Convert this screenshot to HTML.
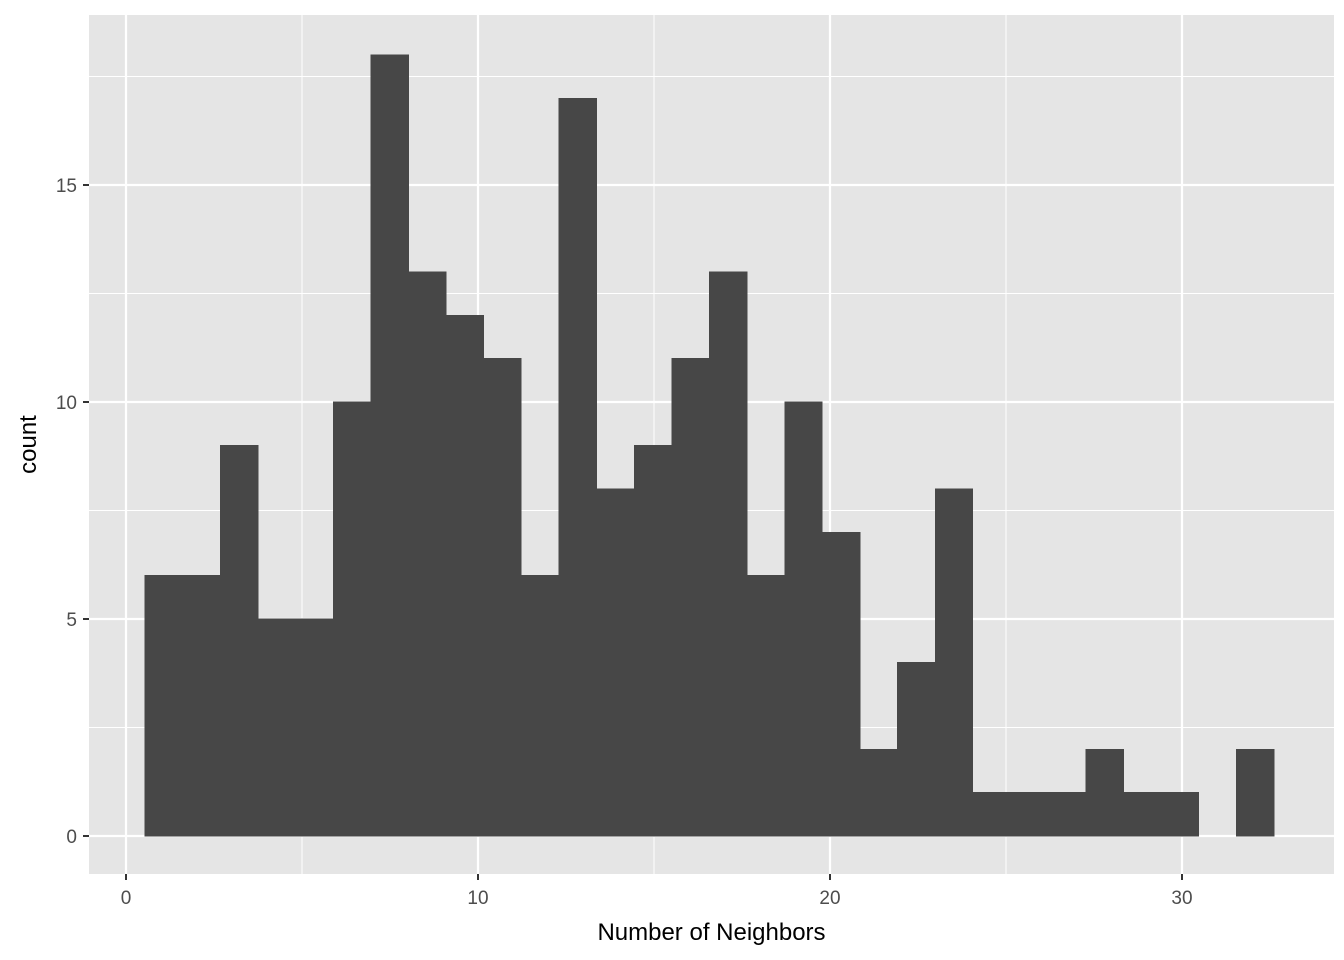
<!DOCTYPE html>
<html><head><meta charset="utf-8"><style>
html,body{margin:0;padding:0;background:#fff;}
svg{display:block;font-family:"Liberation Sans",Arial,sans-serif;}
</style></head><body>
<svg id="chart" width="1344" height="960"></svg>
<script>
const counts=[6,6,9,5,5,10,18,13,12,11,6,17,8,9,11,13,6,10,7,2,4,8,1,1,1,2,1,1,0,2];
const binStart=0.54;
const binWidth=1.069;
const xTicks=[0,10,20,30];
const xMinor=[5,15,25];
const yTicks=[0,5,10,15];
const yMinor=[2.5,7.5,12.5,17.5];
const xTitle="Number of Neighbors";
const yTitle="count";

const NS="http://www.w3.org/2000/svg";
const svg=document.getElementById('chart');
const P={l:89,r:1334,t:15,b:874};
const X=v=>126+v*35.2;
const Y=v=>836-v*43.4;
function mk(tag,attrs,parent){const e=document.createElementNS(NS,tag);for(const k in attrs)e.setAttribute(k,attrs[k]);(parent||svg).appendChild(e);return e;}

const panel=mk('rect',{x:P.l,y:P.t,width:P.r-P.l,height:P.b-P.t,fill:'#e5e5e5'});



const grid=mk('g',{});


xMinor.forEach(v=>mk('line',{x1:X(v),x2:X(v),y1:P.t,y2:P.b,stroke:'#fff','stroke-width':1},grid));
yMinor.forEach(v=>mk('line',{x1:P.l,x2:P.r,y1:Y(v),y2:Y(v),stroke:'#fff','stroke-width':1},grid));
xTicks.forEach(v=>mk('line',{x1:X(v),x2:X(v),y1:P.t,y2:P.b,stroke:'#fff','stroke-width':2.2},grid));
yTicks.forEach(v=>mk('line',{x1:P.l,x2:P.r,y1:Y(v),y2:Y(v),stroke:'#fff','stroke-width':2.2},grid));

const bars=mk('g',{'shape-rendering':'crispEdges'});


counts.forEach((c,i)=>{
  if(c<=0)return;
  const x0=X(binStart+i*binWidth),x1=X(binStart+(i+1)*binWidth);
  const r=mk('rect',{x:x0,y:Y(c),width:x1-x0,height:Y(0)-Y(c),fill:'#474747',stroke:'#474747','stroke-width':0.8},bars);
  
  
});

const xAxis=mk('g',{});


xTicks.forEach(v=>{
  mk('line',{x1:X(v),x2:X(v),y1:P.b,y2:P.b+6,stroke:'#333','stroke-width':2},xAxis);
  const t=mk('text',{x:X(v),y:P.b+30,'text-anchor':'middle','font-size':19,fill:'#4d4d4d'},xAxis);
  t.textContent=v;
  
  
});
const yAxis=mk('g',{});


yTicks.forEach(v=>{
  mk('line',{x1:P.l-6,x2:P.l,y1:Y(v),y2:Y(v),stroke:'#333','stroke-width':2},yAxis);
  const t=mk('text',{x:P.l-12,y:Y(v)+7,'text-anchor':'end','font-size':19,fill:'#4d4d4d'},yAxis);
  t.textContent=v;
  
  
});
const xt=mk('text',{x:(P.l+P.r)/2,y:940,'text-anchor':'middle','font-size':24,fill:'#000'});
xt.textContent=xTitle;


const yt=mk('text',{x:0,y:0,'text-anchor':'middle','font-size':24,fill:'#000',transform:'translate(36,'+((P.t+P.b)/2)+') rotate(-90)'});
yt.textContent=yTitle;


</script>
</body></html>
